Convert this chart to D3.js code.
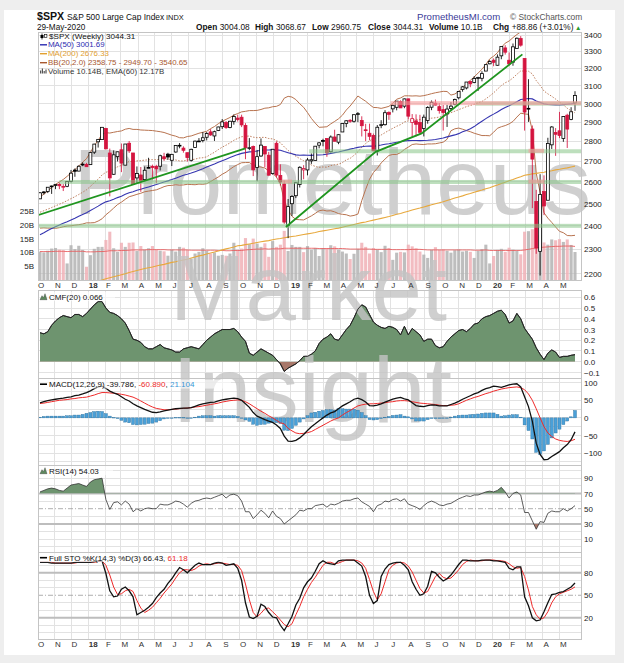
<!DOCTYPE html>
<html><head><meta charset="utf-8">
<script src="https://cdn.jsdelivr.net/npm/d3@7/dist/d3.min.js"></script>
<style>
html,body{margin:0;padding:0;background:#eeeeee;}
svg{display:block;}
text{font-family:"Liberation Sans",Arial,sans-serif;}
</style></head><body>
<svg id="chart" width="624" height="663"></svg>
<script>
// ===================== DATA =====================
const firstWeek = "2017-10-06", lastWeek = "2020-05-29";
const priorClose = 2519.4;
const open = [
2521.2,2550.6,2555.6,2578.1,2583.2,2588.7,2576.5,2579.5,2603.4,2657.2,
2652.2,2685.9,2684.2,2683.7,2745.6,2798.0,2809.2,2867.2,2741.1,2636.8,
2723.0,2757.4,2681.1,2790.5,2741.4,2619.4,2633.5,2611.0,2670.1,2675.4,
2675.5,2675.9,2722.7,2735.4,2705.1,2746.2,2780.2,2765.8,2742.9,2705.0,
2768.5,2798.4,2804.6,2821.2,2849.0,2827.9,2856.1,2876.2,2898.4,2871.7,
2903.8,2921.8,2926.3,2882.5,2763.8,2773.9,2669.3,2726.4,2773.9,2730.1,
2640.0,2790.5,2630.9,2590.8,2400.6,2498.9,2535.6,2588.1,2657.9,2657.9,
2702.1,2704.0,2780.7,2804.4,2814.4,2747.6,2822.6,2796.0,2848.6,2892.8,
2910.0,2904.8,2940.6,2908.9,2859.8,2841.9,2830.0,2751.5,2885.8,2886.8,
2951.4,2971.4,2979.8,3012.1,2986.0,3026.1,2898.1,2907.1,2898.9,2866.7,
2909.0,2980.3,3002.4,2983.5,2967.1,2944.2,2973.6,2996.5,3032.1,3079.0,
3087.0,3123.0,3117.4,3143.9,3141.9,3183.6,3226.0,3247.2,3217.6,3273.4,
3321.0,3247.2,3235.7,3318.3,3378.1,3257.6,2974.3,2863.9,2508.6,2290.7,
2554.9,2514.7,2782.5,2845.6,2854.7,2815.0,2937.1,2913.9,3004.08];
const high = [
2552.5,2557.6,2575.4,2583.0,2588.4,2597.0,2590.0,2604.2,2657.7,2665.2,
2679.6,2695.0,2692.1,2743.5,2787.9,2810.3,2872.9,2870.6,2763.4,2754.4,
2747.8,2789.2,2786.6,2801.9,2741.4,2674.8,2672.1,2674.7,2717.5,2683.6,
2682.9,2732.9,2742.1,2742.2,2736.9,2779.9,2791.5,2775.0,2743.3,2763.0,
2804.5,2816.8,2848.0,2848.0,2863.4,2855.6,2876.2,2916.5,2906.3,2906.8,
2940.9,2939.9,2939.9,2894.8,2816.9,2778.9,2756.6,2815.2,2775.0,2746.8,
2760.9,2800.2,2685.4,2607.0,2520.3,2538.1,2597.8,2675.5,2681.0,2716.7,
2739.0,2775.7,2795.7,2813.5,2816.9,2830.7,2860.3,2836.0,2893.4,2910.5,
2916.1,2940.0,2954.1,2931.3,2891.3,2892.2,2840.5,2885.0,2910.6,2964.2,
2958.1,2995.8,3013.9,3017.8,3028.0,3027.0,2943.3,2942.0,2939.1,2940.4,
2985.9,3017.3,3022.0,3002.6,2992.5,2993.3,3008.3,3027.4,3066.9,3097.8,
3120.5,3127.6,3154.3,3150.6,3182.7,3225.6,3247.9,3258.1,3282.0,3329.9,
3337.8,3293.5,3348.0,3385.1,3393.5,3259.8,3136.7,2882.6,2563.0,2637.0,
2631.8,2818.6,2879.2,2869.0,2954.9,2932.2,2945.0,2980.3,3068.67];
const low = [
2520.4,2541.0,2547.9,2544.0,2566.2,2566.3,2557.4,2575.5,2598.2,2624.8,
2652.0,2676.1,2673.6,2682.4,2736.1,2768.6,2808.1,2760.0,2532.7,2634.1,
2699.4,2647.3,2681.1,2741.4,2585.9,2593.1,2553.8,2605.2,2666.9,2612.2,
2594.6,2655.2,2701.9,2707.4,2676.8,2743.2,2765.0,2742.9,2698.7,2699.0,
2768.5,2796.3,2795.1,2805.0,2828.6,2802.5,2853.2,2864.1,2864.1,2867.9,
2886.9,2903.3,2874.0,2710.5,2755.2,2628.2,2603.5,2722.0,2670.8,2631.1,
2635.3,2621.5,2583.2,2408.6,2346.6,2444.0,2524.6,2574.0,2612.9,2631.6,
2687.3,2704.0,2764.6,2775.1,2722.3,2743.5,2800.7,2785.7,2848.6,2873.3,
2896.5,2898.2,2900.5,2825.4,2801.4,2805.5,2750.5,2728.8,2868.4,2882.0,
2912.3,2952.2,2963.4,2975.9,2975.0,2914.1,2822.1,2825.6,2835.0,2825.5,
2891.9,2964.2,2990.1,2945.5,2856.0,2874.9,2963.4,2990.7,3023.2,3065.9,
3078.9,3091.4,3113.5,3070.3,3124.5,3183.6,3223.4,3212.0,3214.6,3253.2,
3280.7,3214.7,3214.6,3315.2,3328.5,2855.8,2901.5,2478.9,2280.5,2191.9,
2447.5,2514.7,2761.5,2727.1,2816.8,2797.9,2766.6,2910.4,2960.75];
const close = [
2549.3,2553.2,2575.2,2581.1,2587.8,2582.3,2578.9,2602.4,2642.2,2651.5,
2675.8,2683.3,2673.6,2743.2,2786.2,2810.3,2872.9,2762.1,2619.6,2732.2,
2747.3,2691.3,2786.6,2752.0,2588.3,2640.9,2604.5,2656.3,2670.1,2669.9,
2663.4,2727.7,2713.0,2721.3,2734.6,2779.0,2779.4,2754.9,2718.4,2759.8,
2801.3,2801.8,2818.8,2840.4,2833.3,2850.1,2874.7,2901.5,2871.7,2905.0,
2929.7,2914.0,2885.6,2767.1,2767.8,2658.7,2723.1,2781.0,2736.3,2632.6,
2760.2,2633.1,2600.0,2416.6,2485.7,2531.9,2596.3,2670.7,2664.8,2706.5,
2707.9,2775.6,2792.7,2803.7,2743.1,2822.5,2800.7,2834.4,2892.7,2907.4,
2905.0,2939.9,2945.6,2881.4,2859.5,2826.1,2752.1,2873.3,2887.0,2950.5,
2941.8,2990.4,3013.8,2976.6,3025.9,2932.1,2918.7,2888.7,2847.1,2926.5,
2978.7,3007.4,2992.1,2961.8,2952.0,2970.3,2986.2,3022.6,3066.9,3093.1,
3120.5,3110.3,3141.0,3145.9,3168.8,3221.2,3240.0,3234.9,3265.4,3329.6,
3295.5,3225.5,3327.7,3380.2,3337.8,2954.2,2972.4,2711.0,2304.9,2541.5,
2488.7,2789.8,2874.6,2836.7,2830.7,2929.8,2863.7,2955.5,3044.31];
const volumeB = [
10.3,10.0,10.6,11.4,11.6,11.0,10.8,6.0,12.6,11.2,
12.4,10.9,4.8,9.0,11.3,12.0,12.0,14.5,17.5,11.5,
10.2,13.5,12.0,13.5,13.6,10.5,12.3,11.0,11.5,12.3,
11.0,10.6,10.4,8.8,11.0,10.3,12.0,11.7,10.9,7.8,
9.6,10.2,11.5,10.6,9.6,10.0,8.8,9.1,8.8,9.6,
13.5,11.0,11.4,15.2,13.0,15.0,13.2,12.0,13.3,8.4,
14.1,12.0,12.8,17.8,10.5,12.7,12.0,12.0,10.1,12.3,
11.0,11.6,8.7,11.5,11.4,12.6,12.2,11.0,10.3,9.6,
7.6,9.5,11.3,13.5,12.0,9.6,11.6,11.0,10.1,12.4,
11.6,7.3,9.9,10.2,10.0,12.8,12.2,11.5,10.3,9.2,
8.0,10.9,11.9,10.9,11.1,10.6,9.9,10.8,11.1,10.3,
10.6,10.2,8.0,10.6,11.2,12.8,6.0,8.7,10.9,11.3,
10.2,11.7,11.0,10.6,9.3,17.5,17.7,18.4,18.5,16.2,
13.6,12.8,14.7,14.4,14.8,13.8,14.7,12.7,10.14];
const volumeEma60 = [
10.3,10.3,10.3,10.3,10.4,10.4,10.4,10.3,10.4,10.4,
10.4,10.4,10.2,10.2,10.2,10.3,10.3,10.4,10.6,10.6,
10.6,10.7,10.7,10.8,10.9,10.9,10.9,10.9,11.0,11.0,
11.0,11.0,11.0,10.9,10.9,10.9,10.9,10.9,10.9,10.8,
10.8,10.8,10.8,10.8,10.8,10.8,10.7,10.7,10.6,10.6,
10.7,10.7,10.7,10.9,11.0,11.1,11.2,11.2,11.3,11.2,
11.3,11.3,11.3,11.5,11.5,11.5,11.5,11.5,11.5,11.5,
11.5,11.5,11.4,11.4,11.4,11.4,11.4,11.4,11.4,11.3,
11.2,11.2,11.2,11.2,11.2,11.2,11.1,11.1,11.1,11.1,
11.1,11.0,11.0,11.0,11.0,11.0,11.1,11.1,11.1,11.0,
10.9,10.9,10.9,10.9,10.9,10.9,10.9,10.9,10.9,10.9,
10.9,10.9,10.8,10.8,10.8,10.9,10.7,10.7,10.7,10.7,
10.7,10.7,10.7,10.7,10.7,10.9,11.1,11.4,11.6,11.8,
11.9,12.0,12.1,12.2,12.2,12.3,12.3,12.3,12.17];
const ma50 = [
2361.4,2369.9,2379.7,2388.1,2396.2,2403.6,2411.3,2418.2,2425.8,2433.6,
2442.3,2450.5,2458.4,2467.9,2477.7,2488.0,2499.1,2507.3,2512.4,2519.4,
2526.9,2533.1,2542.0,2549.8,2554.4,2560.7,2565.8,2571.2,2576.6,2582.2,
2587.8,2594.1,2599.6,2605.4,2611.4,2618.2,2625.3,2631.9,2637.1,2642.8,
2649.4,2655.9,2663.5,2671.8,2679.6,2687.0,2695.3,2703.3,2710.7,2718.4,
2726.0,2733.3,2739.5,2743.2,2746.8,2748.3,2751.2,2754.8,2756.7,2756.3,
2758.0,2757.0,2755.5,2749.0,2743.0,2737.4,2731.9,2730.0,2730.9,2730.4,
2729.6,2731.3,2731.4,2732.5,2735.6,2739.2,2743.1,2746.7,2751.1,2755.9,
2760.7,2764.9,2769.6,2772.8,2775.3,2776.2,2775.7,2778.1,2781.4,2785.2,
2788.0,2791.8,2795.7,2798.4,2802.3,2803.9,2804.8,2804.5,2804.1,2804.5,
2805.5,2807.3,2809.5,2813.4,2817.0,2823.3,2828.5,2833.4,2840.0,2849.2,
2856.4,2865.9,2876.7,2891.3,2905.0,2918.8,2931.7,2942.9,2954.9,2967.4,
2979.2,2988.2,2998.9,3010.4,3022.3,3024.9,3028.3,3025.9,3014.1,3006.8,
2998.5,2995.5,2994.0,2993.1,2992.6,2994.6,2996.9,2998.5,3001.69];
const ma200 = [
2108,2112,2116,2120,2124,2128,2132,2136,2140,2144,
2148,2152,2156,2161,2165,2170,2174,2179,2183,2187,
2191,2195,2199,2204,2208,2212,2216,2220,2223,2226,
2230,2234,2237,2241,2245,2248,2252,2255,2258,2263,
2267,2272,2275,2280,2284,2288,2292,2297,2301,2305,
2309,2314,2316,2319,2322,2325,2328,2331,2334,2336,
2340,2343,2345,2348,2351,2354,2356,2359,2362,2365,
2368,2371,2375,2378,2381,2384,2387,2390,2394,2398,
2402,2406,2410,2414,2417,2421,2425,2429,2433,2437,
2441,2446,2451,2455,2460,2465,2470,2475,2479,2484,
2489,2494,2499,2503,2508,2514,2519,2525,2530,2535,
2541,2546,2552,2557,2562,2568,2573,2580,2586,2593,
2599,2606,2612,2619,2625,2632,2635,2639,2641,2644,
2647,2651,2654,2658,2661,2665,2668,2672,2676.33];
const bbMid = [
2460.3,2467.2,2474.0,2481.5,2489.2,2496.4,2504.2,2513.0,2522.2,2531.1,
2541.3,2551.6,2563.3,2579.1,2596.3,2613.0,2633.6,2646.6,2652.5,2663.2,
2673.1,2680.0,2690.5,2699.1,2699.1,2702.0,2703.3,2706.0,2707.4,2708.3,
2707.7,2709.9,2711.9,2710.8,2708.2,2706.7,2702.0,2701.6,2706.6,2707.9,
2710.6,2716.2,2717.8,2722.2,2734.4,2744.9,2758.4,2770.7,2780.8,2792.5,
2805.8,2815.1,2823.8,2826.1,2827.7,2821.7,2818.9,2820.2,2821.1,2814.7,
2812.7,2804.2,2793.3,2772.1,2754.7,2738.8,2724.9,2713.4,2703.0,2693.1,
2682.0,2675.1,2670.4,2672.3,2671.0,2679.2,2683.1,2685.8,2693.6,2707.3,
2714.6,2729.9,2747.2,2770.4,2789.1,2803.8,2811.6,2821.7,2832.9,2845.1,
2856.8,2867.5,2878.5,2887.2,2901.3,2906.8,2912.7,2915.4,2913.1,2914.1,
2917.8,2921.2,2923.5,2927.5,2932.1,2939.3,2951.0,2958.5,2967.5,2974.6,
2983.6,2989.6,2995.9,3004.4,3011.5,3026.0,3042.1,3059.4,3080.3,3100.4,
3116.3,3127.2,3144.0,3164.9,3184.2,3183.4,3182.7,3167.1,3129.0,3101.4,
3069.8,3053.8,3040.5,3025.0,3008.1,2993.5,2974.7,2960.8,2949.70];
const bbUpper = [
2530,2543,2558,2574,2589,2600,2612,2627,2644,2659,
2677,2696,2713,2745,2778,2805,2837,2845,2843,2847,
2851,2854,2863,2867,2862,2862,2859,2858,2857,2856,
2853,2850,2846,2839,2832,2827,2819,2818,2825,2828,
2835,2842,2847,2852,2866,2877,2892,2905,2915,2925,
2938,2946,2955,2958,2962,2962,2963,2968,2975,2977,
2983,2985,2995,3030,3040,3036,3022,2999,2980,2951,
2920,2895,2873,2874,2876,2891,2904,2918,2937,2965,
2987,3014,3042,3027,3013,2995,2979,2978,2974,2979,
2985,3002,3024,3031,3043,3043,3042,3043,3041,3044,
3049,3055,3060,3064,3068,3067,3047,3053,3067,3087,
3112,3130,3150,3172,3194,3222,3255,3271,3292,3324,
3350,3363,3384,3403,3420,3422,3424,3478,3616,3651,
3682,3674,3667,3655,3640,3618,3592,3565,3540.65];
const bbLower = [
2390,2391,2390,2390,2389,2392,2396,2399,2400,2403,
2405,2408,2413,2413,2414,2421,2431,2449,2463,2479,
2495,2506,2519,2531,2536,2542,2547,2554,2557,2560,
2563,2570,2578,2583,2584,2587,2585,2586,2589,2588,
2587,2590,2589,2592,2602,2613,2624,2637,2647,2661,
2674,2684,2693,2694,2694,2682,2675,2672,2667,2653,
2643,2623,2591,2514,2470,2442,2428,2427,2426,2435,
2444,2455,2467,2470,2466,2467,2462,2454,2451,2449,
2443,2446,2452,2513,2565,2613,2645,2666,2692,2711,
2729,2734,2734,2743,2759,2771,2784,2787,2785,2784,
2787,2787,2788,2792,2796,2811,2855,2865,2869,2863,
2856,2850,2842,2836,2830,2830,2829,2847,2868,2876,
2882,2891,2904,2927,2948,2944,2942,2856,2642,2551,
2458,2434,2415,2395,2376,2370,2358,2357,2358.75];
const cmf20 = [
0.27,0.26,0.28,0.34,0.38,0.41,0.43,0.42,0.41,0.44,
0.44,0.42,0.45,0.49,0.53,0.56,0.56,0.50,0.46,0.45,
0.43,0.40,0.36,0.29,0.21,0.20,0.18,0.14,0.12,0.12,
0.14,0.16,0.13,0.12,0.11,0.09,0.09,0.12,0.13,0.14,
0.13,0.12,0.16,0.20,0.23,0.26,0.28,0.30,0.30,0.30,
0.31,0.28,0.23,0.19,0.08,0.06,0.09,0.12,0.10,0.08,
0.06,0.02,-0.02,-0.09,-0.06,-0.04,-0.02,0.01,0.05,0.05,
0.07,0.10,0.17,0.21,0.23,0.26,0.21,0.20,0.25,0.30,
0.34,0.41,0.49,0.53,0.51,0.44,0.37,0.34,0.32,0.31,
0.33,0.32,0.30,0.25,0.33,0.25,0.31,0.28,0.25,0.19,
0.21,0.21,0.15,0.13,0.14,0.19,0.23,0.26,0.29,0.30,
0.28,0.31,0.35,0.36,0.40,0.42,0.43,0.45,0.47,0.48,
0.44,0.36,0.38,0.45,0.40,0.31,0.26,0.21,0.13,0.07,
0.02,0.08,0.11,0.09,0.04,0.05,0.05,0.06,0.066];
const macdLine = [
43,46,49,51,53,55,56,58,60,63,
65,68,72,77,83,88,90,84,76,71,
67,60,53,48,40,34,29,24,20,16,
15,17,20,22,24,26,27,28,28,29,
33,37,40,42,44,45,48,51,53,55,
56,55,50,40,30,15,5,0,-5,-9,
-13,-20,-30,-52,-66,-67,-64,-57,-47,-36,
-25,-17,-8,0,8,14,18,26,34,40,
46,53,56,52,45,35,34,36,40,45,
49,53,56,58,54,51,43,35,33,32,
35,37,36,34,34,34,38,42,47,53,
58,63,68,72,78,83,86,90,89,87,
90,94,96,97,88,60,32,-10,-72,-104,
-119,-118,-110,-103,-96,-85,-76,-62,-39.786];
const macdSignal = [
41,42,44,46,48,50,51,52,54,55,
57,58,59,62,65,69,72,72,71,70,
69,67,65,62,59,54,48,42,36,31,
27,25,23,23,24,25,26,27,28,29,
31,32,34,36,38,40,42,45,47,49,
50,51,50,46,40,33,26,19,13,6,
0,-7,-14,-17,-30,-37,-43,-45,-44,-42,
-39,-33,-27,-21,-15,-9,-4,0,8,15,
21,28,34,37,39,40,40,41,42,43,
45,46,48,49,49,48,46,44,42,41,
40,39,38,36,35,35,36,37,40,45,
50,54,58,61,65,69,72,76,79,82,
84,86,87,88,86,80,68,50,26,0,
-25,-43,-53,-60,-64,-66,-67,-65,-60.890];
const macdHist = [
2,4,5,5,5,5,5,6,6,8,
8,10,13,15,18,19,18,12,5,1,
-2,-7,-12,-14,-19,-20,-19,-18,-16,-15,
-12,-8,-3,-1,0,1,1,1,0,0,
2,5,6,6,6,5,6,6,6,6,
6,4,0,-6,-10,-18,-21,-19,-18,-15,
-13,-13,-16,-35,-36,-30,-21,-12,-3,6,
14,16,19,21,23,23,22,26,26,25,
25,25,22,15,6,-5,-6,-5,-2,2,
4,7,8,9,5,3,-3,-9,-9,-9,
-5,-2,-2,-2,-1,-1,2,5,7,8,
8,9,10,11,13,14,14,14,10,5,
6,8,9,9,2,-20,-36,-60,-98,-104,
-94,-75,-57,-43,-32,-19,-9,3,21.104];
const rsi14 = [
72,74,76,77,76,74,73,77,81,82,
83,81,79,85,88,89,90,62,49,58,
59,55,60,56,46,50,47,50,51,50,
50,56,55,55,57,60,59,56,52,57,
60,61,63,64,63,65,67,69,64,68,
69,67,60,46,46,37,42,48,44,38,
47,40,37,30,34,38,42,48,47,50,
50,54,55,56,52,56,55,57,60,61,
61,63,64,59,56,53,46,54,56,60,
59,62,63,60,63,56,54,52,49,54,
58,60,58,55,54,56,57,60,63,65,
67,66,68,68,70,72,73,72,74,78,
72,64,70,72,68,45,45,34,23,33,
32,44,47,46,46,50,47,50,54.03];
const stoK = [
94,94,94,93,93,93,93,93,93,94,
94,94,94,94,95,96,96,79,56,48,
49,58,61,56,48,24,27,30,34,39,
47,53,58,66,72,80,87,84,80,85,
90,93,91,91,91,93,94,93,90,91,
92,86,70,40,21,19,22,38,35,27,
21,20,10,3,12,22,37,46,60,68,
73,82,92,96,93,92,91,96,97,97,
97,97,93,89,75,50,39,43,75,85,
91,93,94,94,90,84,68,58,50,52,
62,82,80,74,69,72,77,84,91,97,
97,96,96,96,97,97,97,96,96,95,
94,86,84,88,88,48,36,20,16,17,
28,40,51,52,54,55,58,61,66.43];
const stoD = [
94,94,94,94,93,93,93,93,93,93,
94,94,94,94,94,95,96,90,77,61,
51,52,56,58,55,43,33,27,30,34,
40,46,53,59,65,73,80,84,84,83,
85,89,91,92,91,92,93,93,92,91,
91,90,83,65,44,27,21,26,32,33,
28,23,17,11,8,12,24,35,48,58,
67,74,82,90,94,94,92,93,95,97,
97,97,96,93,86,71,55,44,52,68,
84,90,93,94,93,89,81,70,59,53,
55,65,75,79,74,72,73,78,84,91,
95,97,96,96,96,97,97,97,96,96,
95,92,88,86,87,75,57,35,24,18,
20,28,40,48,52,54,56,58,61.18];
// annotations (chartist's drawn lines)
const trendA_dates = ["2017-10-02","2018-10-12"], trendA_prices = [2447,2765];
const trendB_dates = ["2018-12-24","2019-06-04","2019-08-26","2020-02-24"], trendB_prices = [2395,2747,2841,3282];
const greenLevels = [2400,2600,2750,3000];
const greenStarts = ["2017-09-25","2017-11-10","2019-02-04","2019-12-01"];
const greenEnds   = ["2020-06-10","2020-06-10","2020-06-10","2020-06-10"];
const pinkLevels = [3000,2600,2600,2750];
const pinkStarts = ["2019-07-01","2018-12-17","2020-03-06","2020-03-06"];
const pinkEnds   = ["2020-06-10","2019-01-04","2020-04-03","2020-04-03"];
// ticks
const monthLabels = ["O","N","D","18","F","M","A","M","J","J","A","S","O","N","D","19","F","M","A","M","J","J","A","S","O","N","D","20","F","M","A","M"];
const priceTicks = [2200,2300,2400,2500,2600,2700,2800,2900,3000,3100,3200,3300,3400];
const volTicks = [5,10,15,20,25];
const cmfTicks = [0.6,0.5,0.4,0.3,0.2,0.1,0.0,-0.1];
const macdTicks = [100,50,0,-50,-100];
const rsiTicks = [90,70,50,30,10];
const stoTicks = [80,50,20];

// ===================== LAYOUT =====================
const parse = d3.timeParse("%Y-%m-%d");
const weeks = d3.timeFriday.range(parse(firstWeek), d3.timeDay.offset(parse(lastWeek),1));
const N = Math.min(weeks.length, close.length);
const L = 38, R = 581;
const P = {top:32, bot:280}, C = {top:290, bot:378.7}, M = {top:378.7, bot:465}, RS = {top:465, bot:552}, S = {top:552, bot:639};
const x = d3.scaleTime().domain([weeks[0], weeks[weeks.length-1]]).range([40, 575]);
const yP = d3.scaleLog().domain([2174, 3419]).range([P.bot, P.top]);
const yV = d3.scaleLinear().domain([0, 10]).range([P.bot, P.bot - 27.6]);
const yC = d3.scaleLinear().domain([-0.158, 0.668]).range([C.bot, C.top]);
const yM = d3.scaleLinear().domain([-134, 111.4]).range([M.bot, M.top]);
const yR = d3.scaleLinear().domain([-6.8, 107.3]).range([RS.bot, RS.top]);
const yS = d3.scaleLinear().domain([-8.3, 107.7]).range([S.bot, S.top]);
const months = d3.timeMonth.range(new Date(2017,9,1), new Date(2020,5,1));

const svg = d3.select("#chart");
const defs = svg.append("defs");
function clipRect(id, x0, y0, x1, y1){ defs.append("clipPath").attr("id", id).append("rect").attr("x", x0).attr("y", y0).attr("width", x1-x0).attr("height", y1-y0); }
clipRect("cP", L, P.top, R, P.bot);
clipRect("cC", L, C.top, R, C.bot);
clipRect("cM", L, M.top, R, M.bot);
clipRect("cR", L, RS.top, R, RS.bot);
clipRect("cS", L, S.top, R, S.bot);
clipRect("cCpos", L, C.top, R, yC(0));
clipRect("cCneg", L, yC(0), R, C.bot);
clipRect("cR70", L, RS.top, R, yR(70));
clipRect("cR30", L, yR(30), R, RS.bot);

svg.append("rect").attr("x",4).attr("y",10).attr("width",611).attr("height",645).attr("fill","#ffffff");

const GRID = "#e2e2e2";
const panels = [P, C, M, RS, S];
const gGrid = svg.append("g").attr("shape-rendering","crispEdges");
panels.forEach(p => {
  months.forEach(m => { const xx = x(m); if (xx > L && xx < R) gGrid.append("line").attr("x1",xx).attr("x2",xx).attr("y1",p.top).attr("y2",p.bot).attr("stroke",GRID); });
});
function hgrid(vals, sc, color, w, dash){ vals.forEach(v => { const l = gGrid.append("line").attr("x1",L).attr("x2",R).attr("y1",sc(v)).attr("y2",sc(v)).attr("stroke",color).attr("stroke-width",w||1); if (dash) l.attr("stroke-dasharray",dash); }); }
hgrid(priceTicks, yP, GRID);
hgrid(d3.range(-1,7).map(v=>v/10), yC, GRID);
hgrid([-125,-100,-75,-50,-25,0,25,50,75,100], yM, GRID);
hgrid([0,10,20,40,60,80,90,100], yR, GRID);
hgrid([0,10,30,40,60,70,90,100], yS, GRID);

const xi = i => x(weeks[i]);
const idx = d3.range(N);
const lineOf = (arr, sc) => d3.line().defined(i => arr[i] != null).x(i => xi(i)).y(i => sc(arr[i]));
function hgridTo(g, vals, sc, color, w){ vals.forEach(v => g.append("line").attr("x1",L).attr("x2",R).attr("y1",sc(v)).attr("y2",sc(v)).attr("stroke",color).attr("stroke-width",w)); }

// ---------- watermark (drawn under the data, over the grid) ----------
const wm = svg.append("g").attr("fill","#cfcfcf").attr("font-size",92).attr("font-family","Liberation Sans, Arial, sans-serif");
wm.append("text").attr("x",73).attr("y",214).attr("textLength",518).attr("lengthAdjust","spacingAndGlyphs").text("Prometheus");

// ---------- price panel ----------
const gP = svg.append("g").attr("clip-path","url(#cP)");
idx.forEach(i => {
  const pc = i > 0 ? close[i-1] : priorClose;
  const up = close[i] >= pc;
  gP.append("rect").attr("x", xi(i)-1.55).attr("width",3.1).attr("y", yV(volumeB[i])).attr("height", yV(0)-yV(volumeB[i]))
    .attr("fill", up ? "#b3b3b3" : "#f0b0b6").attr("opacity",0.85);
});
gP.append("path").attr("d", lineOf(volumeEma60, yV)(idx)).attr("fill","none").attr("stroke","#e8595b").attr("stroke-width",1).attr("opacity",0.85);
const BB = "#b8734f";
gP.append("path").attr("d", lineOf(bbUpper, yP)(idx)).attr("fill","none").attr("stroke",BB).attr("stroke-width",1);
gP.append("path").attr("d", lineOf(bbLower, yP)(idx)).attr("fill","none").attr("stroke",BB).attr("stroke-width",1);
gP.append("path").attr("d", lineOf(bbMid, yP)(idx)).attr("fill","none").attr("stroke",BB).attr("stroke-width",0.9).attr("stroke-dasharray","1.5,1.5");
gP.append("path").attr("d", lineOf(ma200, yP)(idx)).attr("fill","none").attr("stroke","#e7a83c").attr("stroke-width",1.1);
gP.append("path").attr("d", lineOf(ma50, yP)(idx)).attr("fill","none").attr("stroke","#3535b0").attr("stroke-width",1.1);
idx.forEach(i => {
  const o = open[i], h = high[i], l = low[i], c = close[i];
  const pc = i > 0 ? close[i-1] : priorClose;
  const col = c >= pc ? "#000000" : "#d4143f";
  const xx = xi(i);
  gP.append("line").attr("x1",xx).attr("x2",xx).attr("y1",yP(h)).attr("y2",yP(l)).attr("stroke",col).attr("stroke-width",0.85);
  const yt = yP(Math.max(o,c)), yb = yP(Math.min(o,c));
  gP.append("rect").attr("x",xx-1.45).attr("width",2.9).attr("y",yt).attr("height",Math.max(0.8,yb-yt))
    .attr("fill", c > o ? "#ffffff" : col).attr("stroke",col).attr("stroke-width",0.8);
});
// annotations
const bandG = gP.append("g");
greenLevels.forEach((lv,k) => {
  const x0 = Math.max(L, x(parse(greenStarts[k]))), x1 = Math.min(R, x(parse(greenEnds[k])));
  bandG.append("rect").attr("x",x0).attr("width",x1-x0).attr("y",yP(lv)-2).attr("height",4).attr("fill","#86c486").attr("opacity",0.55);
});
pinkLevels.forEach((lv,k) => {
  const x0 = Math.max(L, x(parse(pinkStarts[k]))), x1 = Math.min(R, x(parse(pinkEnds[k])));
  bandG.append("rect").attr("x",x0).attr("width",x1-x0).attr("y",yP(lv)-2.5).attr("height",4).attr("fill","#f59a9a").attr("opacity",0.6);
});
const tl = (ds, ps) => d3.line().x((d,i)=>x(parse(ds[i]))).y((d,i)=>yP(ps[i]))(ds);
gP.append("path").attr("d", tl(trendA_dates, trendA_prices)).attr("fill","none").attr("stroke","#1f951f").attr("stroke-width",1.8);
gP.append("path").attr("d", tl(trendB_dates, trendB_prices)).attr("fill","none").attr("stroke","#1f951f").attr("stroke-width",1.8);

// ---------- CMF ----------
const gC = svg.append("g").attr("clip-path","url(#cC)");
const cmfArea = d3.area().x(i => xi(i)).y0(yC(0)).y1(i => yC(cmf20[i]));
gC.append("path").attr("d", cmfArea(idx)).attr("fill","#6e946f").attr("clip-path","url(#cCpos)");
gC.append("path").attr("d", cmfArea(idx)).attr("fill","#a8786a").attr("clip-path","url(#cCneg)");
gC.append("path").attr("d", lineOf(cmf20, yC)(idx)).attr("fill","none").attr("stroke","#222").attr("stroke-width",0.9);

// ---------- watermark lower words (over the CMF fill, under the indicator lines) ----------
const wm2 = svg.append("g").attr("fill","#c4c4c4").attr("opacity",0.8).attr("font-size",92).attr("font-family","Liberation Sans, Arial, sans-serif");
wm2.append("text").attr("x",170).attr("y",320).attr("textLength",277).attr("lengthAdjust","spacingAndGlyphs").text("Market");
wm2.append("text").attr("x",172).attr("y",422).attr("textLength",280).attr("lengthAdjust","spacingAndGlyphs").text("Insight");
svg.append("path").attr("clip-path","url(#cC)").attr("d", lineOf(cmf20, yC)(idx)).attr("fill","none").attr("stroke","#222").attr("stroke-width",0.9);

// ---------- MACD ----------
const gM = svg.append("g").attr("clip-path","url(#cM)");
idx.forEach(i => {
  const v = macdHist[i], y0 = yM(0), y1 = yM(v);
  gM.append("rect").attr("x", xi(i)-1.5).attr("width",3).attr("y",Math.min(y0,y1)).attr("height",Math.max(0.5,Math.abs(y1-y0)))
    .attr("fill","#4aa0d8").attr("stroke","#2b6f9c").attr("stroke-width",0.4);
});
gM.append("path").attr("d", lineOf(macdSignal, yM)(idx)).attr("fill","none").attr("stroke","#ee2a2a").attr("stroke-width",1);
gM.append("path").attr("d", lineOf(macdLine, yM)(idx)).attr("fill","none").attr("stroke","#111").attr("stroke-width",1.3);

// ---------- RSI ----------
const gR = svg.append("g").attr("clip-path","url(#cR)");
hgridTo(gR, [70,30], yR, "#bdbdbd", 2);
gR.append("line").attr("x1",L).attr("x2",R).attr("y1",yR(50)).attr("y2",yR(50)).attr("stroke","#9a9a9a").attr("stroke-width",0.8).attr("stroke-dasharray","5,2,1,2");
const rA70 = d3.area().x(i=>xi(i)).y0(yR(70)).y1(i=>yR(rsi14[i]));
const rA30 = d3.area().x(i=>xi(i)).y0(yR(30)).y1(i=>yR(rsi14[i]));
gR.append("path").attr("d", rA70(idx)).attr("fill","#6e946f").attr("clip-path","url(#cR70)");
gR.append("path").attr("d", rA30(idx)).attr("fill","#a8786a").attr("clip-path","url(#cR30)");
gR.append("path").attr("d", lineOf(rsi14, yR)(idx)).attr("fill","none").attr("stroke","#333").attr("stroke-width",0.8);

// ---------- STO ----------
const gS = svg.append("g").attr("clip-path","url(#cS)");
hgridTo(gS, [80,20], yS, "#bdbdbd", 2);
gS.append("line").attr("x1",L).attr("x2",R).attr("y1",yS(50)).attr("y2",yS(50)).attr("stroke","#9a9a9a").attr("stroke-width",0.8).attr("stroke-dasharray","5,2,1,2");
gS.append("path").attr("d", lineOf(stoD, yS)(idx)).attr("fill","none").attr("stroke","#ee2a2a").attr("stroke-width",1);
gS.append("path").attr("d", lineOf(stoK, yS)(idx)).attr("fill","none").attr("stroke","#111").attr("stroke-width",1.3);

// ---------- borders ----------
panels.forEach(p => svg.append("rect").attr("x",L).attr("y",p.top).attr("width",R-L).attr("height",p.bot-p.top).attr("fill","none").attr("stroke","#c4c4c4").attr("shape-rendering","crispEdges"));

// ---------- axes ----------
function styleAxis(g){ g.select(".domain").remove(); g.attr("font-family","Liberation Sans, Arial, sans-serif").attr("font-size",8).selectAll("text").attr("fill","#222"); }
svg.append("g").attr("transform",`translate(${R},0)`).call(d3.axisRight(yP).tickValues(priceTicks).tickSize(0).tickPadding(3).tickFormat(d3.format("d"))).call(styleAxis);
svg.append("g").attr("transform",`translate(36,0)`).call(d3.axisLeft(yV).tickValues(volTicks).tickSize(0).tickPadding(2).tickFormat(d=>d+"B")).call(styleAxis);
svg.append("g").attr("transform",`translate(${R},0)`).call(d3.axisRight(yC).tickValues(cmfTicks).tickSize(0).tickPadding(3).tickFormat(d3.format(".1f"))).call(styleAxis);
svg.append("g").attr("transform",`translate(${R},0)`).call(d3.axisRight(yM).tickValues(macdTicks).tickSize(0).tickPadding(3).tickFormat(d3.format("d"))).call(styleAxis);
svg.append("g").attr("transform",`translate(${R},0)`).call(d3.axisRight(yR).tickValues(rsiTicks).tickSize(0).tickPadding(3).tickFormat(d3.format("d"))).call(styleAxis);
svg.append("g").attr("transform",`translate(${R},0)`).call(d3.axisRight(yS).tickValues(stoTicks).tickSize(0).tickPadding(3).tickFormat(d3.format("d"))).call(styleAxis);
function monthAxis(yPos){
  const g = svg.append("g").attr("transform",`translate(0,${yPos})`).call(d3.axisBottom(x).tickValues(months).tickSize(0).tickPadding(0).tickFormat((d,i)=>monthLabels[i])).call(styleAxis);
  g.selectAll(".tick").attr("transform", d => `translate(${Math.max(L-0.5, x(d))+0.6},0)`);
  g.selectAll("text").attr("text-anchor","start").attr("font-weight",(d,i)=>monthLabels[i].length>1?"bold":"normal").attr("fill","#333");
}
monthAxis(282);
monthAxis(641);

// ---------- header ----------
const hdr = svg.append("g").attr("fill","#111");
hdr.append("text").attr("x",37).attr("y",20).attr("font-size",10.6).attr("font-weight","bold").text("$SPX");
hdr.append("text").attr("x",67).attr("y",20).attr("font-size",8.4).text("S&P 500 Large Cap Index");
hdr.append("text").attr("x",166).attr("y",20).attr("font-size",7.4).text("INDX");
hdr.append("text").attr("x",37).attr("y",29.5).attr("font-size",8.2).text("29-May-2020");
const hItems = [["Open","3004.08",196],["High","3068.67",255],["Low","2960.75",312],["Close","3044.31",368],["Volume","10.1B",429],["Chg","+88.86 (+3.01%)",493]];
hItems.forEach(([k,v,px]) => { const t = hdr.append("text").attr("x",px).attr("y",29.5).attr("font-size",8.3); t.append("tspan").attr("font-weight","bold").text(k); t.append("tspan").attr("dx",2.5).text(v); });
hdr.append("text").attr("x",575).attr("y",29.5).attr("font-size",6.5).attr("fill","#2a9a2a").text("▲");
svg.append("text").attr("x",417).attr("y",20).attr("font-size",9.6).attr("fill","#3b3b98").text("PrometheusMI.com");
svg.append("text").attr("x",510).attr("y",19.5).attr("font-size",8.4).attr("fill","#555").text("© StockCharts.com");

// ---------- legends ----------
const leg = svg.append("g");
function bg(xp, yc, w){ leg.append("rect").attr("x",xp).attr("y",yc-4.6).attr("width",w).attr("height",9).attr("fill","#fff").attr("opacity",0.6); }
leg.append("line").attr("x1",42).attr("x2",42).attr("y1",33.5).attr("y2",39.5).attr("stroke","#000").attr("stroke-width",0.8);
leg.append("rect").attr("x",40.5).attr("y",35).attr("width",3).attr("height",3).attr("fill","#000");
leg.append("rect").attr("x",44.5).attr("y",34.5).attr("width",2.4).attr("height",3).attr("fill","#fff").attr("stroke","#000").attr("stroke-width",0.6);
leg.append("text").attr("x",49).attr("y",39).attr("font-size",8.1).attr("font-family","DejaVu Sans Mono, monospace").attr("fill","#111").text("$SPX (Weekly) 3044.31");
const pl = [["MA(50) 3001.69","#2b2bb0",47.4],["MA(200) 2676.33","#e2a030",56.3],["BB(20,2.0) 2358.75 - 2949.70 - 3540.65","#a8582f",65.3]];
pl.forEach(([t,c,yb]) => {
  leg.append("line").attr("x1",40).attr("x2",47).attr("y1",yb-2.6).attr("y2",yb-2.6).attr("stroke",c).attr("stroke-width",1.4);
  leg.append("text").attr("x",48).attr("y",yb).attr("font-size",7.9).attr("fill",c).text(t);
});
[[40,3],[41.8,5],[43.6,2.5],[45.4,4]].forEach(([bx,bh]) => leg.append("rect").attr("x",bx).attr("y",73.5-bh).attr("width",1.2).attr("height",bh).attr("fill","#555"));
leg.append("text").attr("x",48).attr("y",74).attr("font-size",7.9).attr("fill","#333").text("Volume 10.14B, EMA(60) 12.17B");
const MONO = "DejaVu Sans Mono, monospace";
function mountain(xp, yc){ leg.append("path").attr("d",`M${xp},${yc+3} L${xp+2},${yc-1} L${xp+3.5},${yc+1} L${xp+5},${yc-3} L${xp+7},${yc+3} Z`).attr("fill","#5d8a5e").attr("stroke","#333").attr("stroke-width",0.4); }
bg(39, 296.7, 76); mountain(40, 296.7);
leg.append("text").attr("x",49).attr("y",299.6).attr("font-size",8).attr("font-family",MONO).attr("fill","#111").text("CMF(20) 0.066");
bg(39, 384.2, 192);
leg.append("line").attr("x1",40).attr("x2",47).attr("y1",384.2).attr("y2",384.2).attr("stroke","#000").attr("stroke-width",1.6);
const mt = leg.append("text").attr("x",49).attr("y",387.1).attr("font-size",8).attr("font-family",MONO).attr("fill","#111");
mt.append("tspan").text("MACD(12,26,9) -39.786, ");
mt.append("tspan").attr("fill","#ee2a2a").text("-60.890");
mt.append("tspan").text(", ");
mt.append("tspan").attr("fill","#3a97d6").text("21.104");
bg(39, 470.7, 74); mountain(40, 470.7);
leg.append("text").attr("x",49).attr("y",473.6).attr("font-size",8).attr("font-family",MONO).attr("fill","#111").text("RSI(14) 54.03");
bg(39, 557.7, 188);
leg.append("line").attr("x1",40).attr("x2",47).attr("y1",557.7).attr("y2",557.7).attr("stroke","#000").attr("stroke-width",1.6);
const st = leg.append("text").attr("x",49).attr("y",560.6).attr("font-size",8).attr("font-family",MONO).attr("fill","#111");
st.append("tspan").text("Full STO %K(14,3) %D(3) 66.43, ");
st.append("tspan").attr("fill","#ee2a2a").text("61.18");
</script>
</body></html>
